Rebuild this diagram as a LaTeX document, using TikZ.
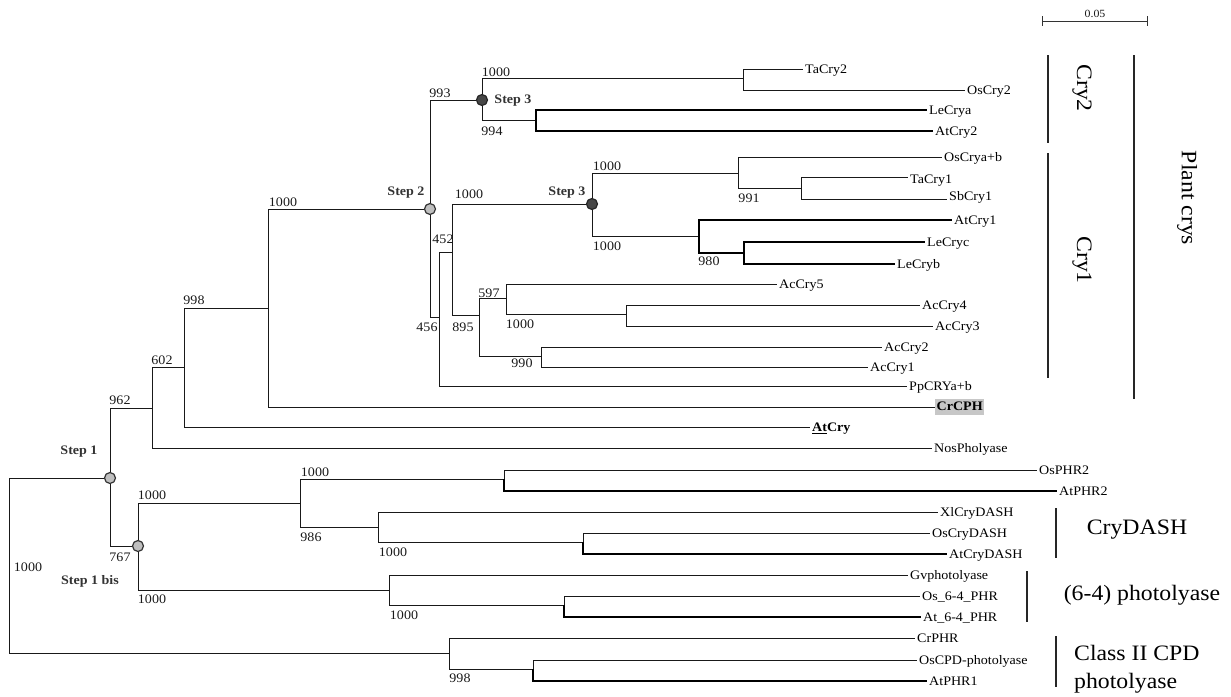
\documentclass[tikz,border=0pt]{standalone}
\usepackage{fontspec}
\setmainfont{Liberation Serif}[FakeStretch=1.08]
\begin{document}
\begin{tikzpicture}[x=1pt,y=-1pt,
  br/.style={draw=black!90, line width=1pt},
  thk/.style={draw=black, line width=2.4pt},
  leaf/.style={anchor=west, inner sep=2pt, text=black, font=\fontsize{13}{13}\selectfont, text height=8.6pt, text depth=0pt},
  bs/.style={font=\fontsize{13}{13}\selectfont, inner sep=0pt, text=black!90},
  stp/.style={font=\bfseries\fontsize{13}{13}\selectfont, inner sep=0pt, text=black!80},
  grp/.style={font=\fontsize{22}{22}\selectfont, inner sep=0pt, text=black},
  lightc/.style={circle, draw=black!80, fill=black!25, line width=1.2pt, minimum size=11pt, inner sep=0pt},
  darkc/.style={circle, draw=black!85, fill=black!72, line width=1.2pt, minimum size=11pt, inner sep=0pt},
  bracket/.style={line width=2pt, draw=black!85}]
\useasboundingbox (0,0) rectangle (1231,696);

% internal nodes
\coordinate (R) at (9,565);
\coordinate (S1) at (110,478);
\coordinate (N962) at (152,408);
\coordinate (N602) at (184,367);
\coordinate (N998) at (268,308);
\coordinate (S2) at (430,209);
\coordinate (S3a) at (482,100);
\coordinate (NTa) at (743,78);
\coordinate (N994) at (536,120);
\coordinate (N456) at (439,317);
\coordinate (N452) at (452,252);
\coordinate (S3b) at (592,204);
\coordinate (N991) at (738,173);
\coordinate (N991b) at (801,188);
\coordinate (N980) at (699,236);
\coordinate (NLe) at (744,253);
\coordinate (N895) at (479,315);
\coordinate (N597) at (506,298);
\coordinate (N1000c) at (626,314);
\coordinate (N990) at (541,356);
\coordinate (S1b) at (138,546);
\coordinate (N1000d) at (300,503);
\coordinate (N504) at (504,479);
\coordinate (N986) at (378,527);
\coordinate (N583) at (583,542);
\coordinate (N1000e) at (389,590);
\coordinate (N564) at (564,605);
\coordinate (NCPD) at (449,653);
\coordinate (N533) at (533,669);
\coordinate (TaCry1end) at (908,177);
\coordinate (SbCry1end) at (947,199);

% leaves
\node[leaf] (TaCry2) at (803,69) {TaCry2};
\node[leaf] (OsCry2) at (965,90) {OsCry2};
\node[leaf] (LeCrya) at (927,110) {LeCrya};
\node[leaf] (AtCry2) at (933,131) {AtCry2};
\node[leaf] (OsCryab) at (942,157) {OsCrya+b};
\node[leaf, yshift=-2pt] (TaCry1) at (TaCry1end) {TaCry1};
\node[leaf, yshift=3pt] (SbCry1) at (SbCry1end) {SbCry1};
\node[leaf] (AtCry1) at (952,220) {AtCry1};
\node[leaf] (LeCryc) at (925,242) {LeCryc};
\node[leaf] (LeCryb) at (895,264) {LeCryb};
\node[leaf] (AcCry5) at (777,284) {AcCry5};
\node[leaf] (AcCry4) at (920,305) {AcCry4};
\node[leaf] (AcCry3) at (933,326) {AcCry3};
\node[leaf] (AcCry2) at (882,347) {AcCry2};
\node[leaf] (AcCry1) at (868,367) {AcCry1};
\node[leaf] (Pp) at (907,386) {PpCRYa+b};
\node[leaf, fill=black!22, text depth=2.5pt, text height=10pt, inner sep=1.5pt, font=\bfseries\fontsize{13}{13}\selectfont] (CrCPH) at (935,407) {CrCPH};
\node[leaf, font=\bfseries\fontsize{13}{13}\selectfont] (AtCry) at (810,427) {\underline{At}Cry};
\node[leaf] (Nos) at (932,448) {NosPholyase};
\node[leaf] (OsPHR2) at (1037,470) {OsPHR2};
\node[leaf] (AtPHR2) at (1057,491) {AtPHR2};
\node[leaf] (Xl) at (938,512) {XlCryDASH};
\node[leaf] (OsCD) at (930,533) {OsCryDASH};
\node[leaf] (AtCD) at (947,554) {AtCryDASH};
\node[leaf] (Gv) at (908,575) {Gvphotolyase};
\node[leaf] (Os64) at (920,596) {Os\_6-4\_PHR};
\node[leaf] (At64) at (921,617) {At\_6-4\_PHR};
\node[leaf] (CrPHR) at (915,638) {CrPHR};
\node[leaf] (OsCPD) at (917,660) {OsCPD-photolyase};
\node[leaf] (AtPHR1) at (927,681) {AtPHR1};

% branches
\draw[br] (R) |- (S1);
\draw[br] (R) |- (NCPD);
\draw[br] (S1) |- (N962);
\draw[br] (S1) |- (S1b);
\draw[br] (N962) |- (N602);
\draw[br] (N962) |- (Nos.west);
\draw[br] (N602) |- (N998);
\draw[br] (N602) |- (AtCry.west);
\draw[br] (N998) |- (S2);
\draw[br] (N998) |- (CrCPH.west);
\draw[br] (S2) |- (S3a);
\draw[br] (S2) |- (N456);
\draw[br] (S3a) |- (NTa);
\draw[br] (S3a) |- (N994);
\draw[br] (NTa) |- (TaCry2.west);
\draw[br] (NTa) |- (OsCry2.west);
\draw[thk] (N994) |- (LeCrya.west);
\draw[thk] (N994) |- (AtCry2.west);
\draw[br] (N456) |- (N452);
\draw[br] (N456) |- (Pp.west);
\draw[br] (N452) |- (S3b);
\draw[br] (N452) |- (N895);
\draw[br] (S3b) |- (N991);
\draw[br] (S3b) |- (N980);
\draw[br] (N991) |- (OsCryab.west);
\draw[br] (N991) |- (N991b);
\draw[br] (N991b) |- (TaCry1end);
\draw[br] (N991b) |- (SbCry1end);
\draw[thk] (N980) |- (AtCry1.west);
\draw[thk] (N980) |- (NLe);
\draw[thk] (NLe) |- (LeCryc.west);
\draw[thk] (NLe) |- (LeCryb.west);
\draw[br] (N895) |- (N597);
\draw[br] (N895) |- (N990);
\draw[br] (N597) |- (AcCry5.west);
\draw[br] (N597) |- (N1000c);
\draw[br] (N1000c) |- (AcCry4.west);
\draw[br] (N1000c) |- (AcCry3.west);
\draw[br] (N990) |- (AcCry2.west);
\draw[br] (N990) |- (AcCry1.west);
\draw[br] (S1b) |- (N1000d);
\draw[br] (S1b) |- (N1000e);
\draw[br] (N1000d) |- (N504);
\draw[br] (N1000d) |- (N986);
\draw[br] (N504) |- (OsPHR2.west);
\draw[thk] (N504) |- (AtPHR2.west);
\draw[br] (N986) |- (Xl.west);
\draw[br] (N986) |- (N583);
\draw[br] (N583) |- (OsCD.west);
\draw[thk] (N583) |- (AtCD.west);
\draw[br] (N1000e) |- (Gv.west);
\draw[br] (N1000e) |- (N564);
\draw[br] (N564) |- (Os64.west);
\draw[thk] (N564) |- (At64.west);
\draw[br] (NCPD) |- (CrPHR.west);
\draw[br] (NCPD) |- (N533);
\draw[br] (N533) |- (OsCPD.west);
\draw[thk] (N533) |- (AtPHR1.west);

% step circles
\node[lightc] (cS1) at (S1) {};
\node[lightc] (cS1b) at (S1b) {};
\node[lightc] (cS2) at (S2) {};
\node[darkc] (cS3a) at (S3a) {};
\node[darkc] (cS3b) at (S3b) {};

% step labels
\node[stp] (tS1) at (79,452) {Step 1};
\node[stp] (tS1b) at (90,581) {Step 1 bis};
\node[stp] (tS2) at (406,193) {Step 2};
\node[stp] (tS3a) at (513,101) {Step 3};
\node[stp] (tS3b) at (567,193) {Step 3};

% bootstrap values
\node[bs] (b1) at (28,567) {1000};
\node[bs] (b2) at (120,400) {962};
\node[bs] (b3) at (162,360) {602};
\node[bs] (b4) at (194,300) {998};
\node[bs] (b5) at (283,202) {1000};
\node[bs] (b6) at (440,93) {993};
\node[bs] (b7) at (496,72) {1000};
\node[bs] (b8) at (492,131) {994};
\node[bs] (b9) at (469,194) {1000};
\node[bs] (b10) at (607,166) {1000};
\node[bs] (b11) at (607,246) {1000};
\node[bs] (b12) at (443,239) {452};
\node[bs] (b13) at (427,327) {456};
\node[bs] (b14) at (463,327) {895};
\node[bs] (b15) at (489,293) {597};
\node[bs] (b16) at (520,324) {1000};
\node[bs] (b17) at (522,363) {990};
\node[bs] (b18) at (749,198) {991};
\node[bs] (b19) at (709,261) {980};
\node[bs] (b20) at (152,495) {1000};
\node[bs] (b21) at (120,557) {767};
\node[bs] (b22) at (152,599) {1000};
\node[bs] (b23) at (315,472) {1000};
\node[bs] (b24) at (311,537) {986};
\node[bs] (b25) at (393,552) {1000};
\node[bs] (b26) at (404,615) {1000};
\node[bs] (b27) at (460,678) {998};

% scale bar
\draw[line width=1pt, draw=black!80] (1042,21) -- (1147,21);
\draw[line width=1pt, draw=black!80] (1042,16) -- (1042,26);
\draw[line width=1pt, draw=black!80] (1147,16) -- (1147,26);
\node[bs, font=\fontsize{11}{11}\selectfont] (sc) at (1095,14) {0.05};

% group brackets
\draw[bracket] (1048,55) -- (1048,143);
\draw[bracket] (1048,153) -- (1048,378);
\draw[bracket] (1134,55) -- (1134,399);
\draw[bracket] (1056,508) -- (1056,558);
\draw[bracket] (1027,571) -- (1027,622);
\draw[bracket] (1056,636) -- (1056,687);
\node[grp, rotate=-90] (gCry2) at (1082,88) {Cry2};
\node[grp, rotate=-90] (gCry1) at (1082,260) {Cry1};
\node[grp, rotate=-90] (gPlant) at (1187,198) {Plant crys};
\node[grp] (gDASH) at (1137,530) {CryDASH};
\node[grp] (g64) at (1142,595) {(6-4) photolyase};
\node[grp, anchor=west, align=left, font=\fontsize{22}{28}\selectfont] (gCPD) at (1074,669) {Class II CPD\\photolyase};
\end{tikzpicture}
\end{document}
